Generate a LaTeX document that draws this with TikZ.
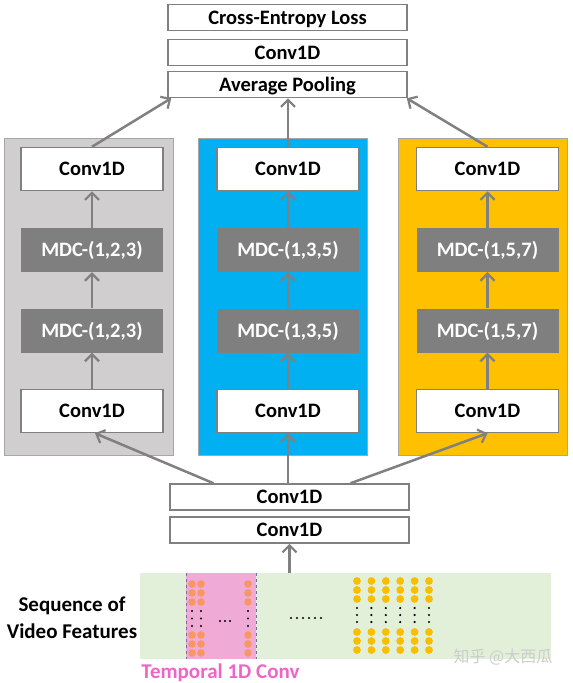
\documentclass[tikz,border=0pt]{standalone}
\usepackage{fontspec}
\setmainfont{Carlito}
\newfontfamily\cjk{Noto Sans CJK SC}
\usetikzlibrary{arrows.meta,calc}
\definecolor{arrgray}{RGB}{128,128,128}
\definecolor{boxline}{RGB}{128,128,128}
\definecolor{mdcfill}{RGB}{127,127,127}
\definecolor{panelgray}{RGB}{208,206,206}
\definecolor{panelblue}{RGB}{0,176,240}
\definecolor{panelyellow}{RGB}{255,192,0}
\definecolor{bandgreen}{RGB}{226,240,217}
\definecolor{pinkreg}{RGB}{240,170,214}
\definecolor{dashc}{RGB}{120,110,160}
\definecolor{orangedot}{RGB}{248,150,100}
\definecolor{yellowdot}{RGB}{250,190,0}
\definecolor{pinktext}{RGB}{240,100,200}
\begin{document}
\begin{tikzpicture}[x=1pt,y=-1pt,
  wbox/.style={draw=boxline,line width=1.5pt,fill=white,inner sep=0pt,
    text height=13pt,text depth=0pt,
    font=\bfseries\fontsize{20.5}{24}\selectfont},
  wide/.style={wbox,minimum width=239pt,minimum height=26pt},
  inbox/.style={wbox,minimum width=142pt,minimum height=43pt},
  mdc/.style={fill=mdcfill,inner sep=0pt,minimum width=142pt,minimum height=44pt,
    text height=13pt,text depth=0pt,
    text=white,font=\bfseries\fontsize{20.5}{24}\selectfont},
  panel/.style={draw=gray!70,line width=0.8pt,minimum width=169pt,minimum height=317pt,inner sep=0pt},
  arr/.style={draw=arrgray,line width=2.5pt,
    -{Straight Barb[length=7pt,width=14pt,line width=2.2pt]}},
  odot/.style={fill=orangedot},
  ydot/.style={fill=yellowdot},
]
\useasboundingbox (0,0) rectangle (573,683);

% top stack
\node[wide] (ce) at (287.5,17.5) {Cross-Entropy Loss};
\node[wide] (c1) at (287.5,52.5) {Conv1D};
\node[wide] (ap) at (287.5,84.5) {Average Pooling};

% panels
\node[panel,fill=panelgray] (PL) at (88.5,296.5) {};
\node[panel,fill=panelblue] (PM) at (283,296.5) {};
\node[panel,fill=panelyellow] (PR) at (483,296.5) {};

% left column
\node[inbox] (L1) at (92,169) {Conv1D};
\node[mdc]   (L2) at (92,250) {MDC-(1,2,3)};
\node[mdc]   (L3) at (92,330.5) {MDC-(1,2,3)};
\node[inbox] (L4) at (92,411) {Conv1D};
% middle column
\node[inbox] (M1) at (288,169) {Conv1D};
\node[mdc]   (M2) at (288,250) {MDC-(1,3,5)};
\node[mdc]   (M3) at (288,330.5) {MDC-(1,3,5)};
\node[inbox] (M4) at (288,411) {Conv1D};
% right column
\node[inbox] (R1) at (487.5,169) {Conv1D};
\node[mdc]   (R2) at (487.5,250) {MDC-(1,5,7)};
\node[mdc]   (R3) at (487.5,330.5) {MDC-(1,5,7)};
\node[inbox] (R4) at (487.5,411) {Conv1D};

% bottom stack
\node[wide] (b1) at (289.5,497) {Conv1D};
\node[wide] (b2) at (289.5,530) {Conv1D};

% feature band
\node[fill=bandgreen,minimum width=411pt,minimum height=86pt,inner sep=0pt] (band) at (345.5,616) {};
\fill[pinkreg] (186,573) rectangle (256,659);
\draw[dashc,dashed,line width=0.8pt] (186,573) -- (186,659);
\draw[dashc,dashed,line width=0.8pt] (256,573) -- (256,659);

% orange dots in pink region
\foreach \x in {192,201,248}{
  \foreach \y in {584,593,602,635,644,653}{
    \fill[odot] (\x,\y) circle (3.8pt);
  }
  \foreach \y in {611,618.5,626}{
    \fill[black] (\x,\y) circle (1.2pt);
  }
}
\foreach \x in {220,225,230}{\fill[black] (\x,621) circle (1.2pt);}
% dotted ellipsis
\foreach \x in {291,297,303,309,315,321}{\fill[black] (\x,618) circle (1.2pt);}
% yellow dots
\foreach \i in {0,...,5}{
  \pgfmathsetmacro{\xx}{357+14.4*\i}
  \foreach \y in {581,590,599,632,641,650}{
    \fill[ydot] (\xx,\y) circle (3.9pt);
  }
  \foreach \y in {608,615,622}{
    \fill[black] (\xx,\y) circle (1.2pt);
  }
}

% texts
\node[font=\bfseries\fontsize{21}{27}\selectfont,align=center] (seq) at (72,618) {Sequence of\\Video Features};
\node[font=\bfseries\fontsize{21}{24}\selectfont,text=pinktext] (tc) at (220.5,673) {Temporal 1D Conv};
\node[font=\cjk\fontsize{16}{18}\selectfont,text=gray!40] (wm) at (503,657) {知乎 @大西瓜};

% arrows
\draw[arr] (b2.south |- band.north) -- (b2.south);
\draw[arr] ([xshift=-76pt]b1.north) -- ([xshift=3pt]L4.south);
\draw[arr] (b1.north -| M4.south) -- (M4.south);
\draw[arr] ([xshift=61pt]b1.north) -- (R4.south);

\draw[arr] (L4) -- (L3);
\draw[arr] (L3) -- (L2);
\draw[arr] (L2) -- (L1);
\draw[arr] (M4) -- (M3);
\draw[arr] (M3) -- (M2);
\draw[arr] (M2) -- (M1);
\draw[arr] (R4) -- (R3);
\draw[arr] (R3) -- (R2);
\draw[arr] (R2) -- (R1);

\draw[arr] (L1.north) -- ([xshift=4pt]ap.south west);
\draw[arr] (M1.north) -- (M1.north |- ap.south);
\draw[arr] (R1.north) -- ([xshift=-1pt]ap.south east);
\end{tikzpicture}
\end{document}
